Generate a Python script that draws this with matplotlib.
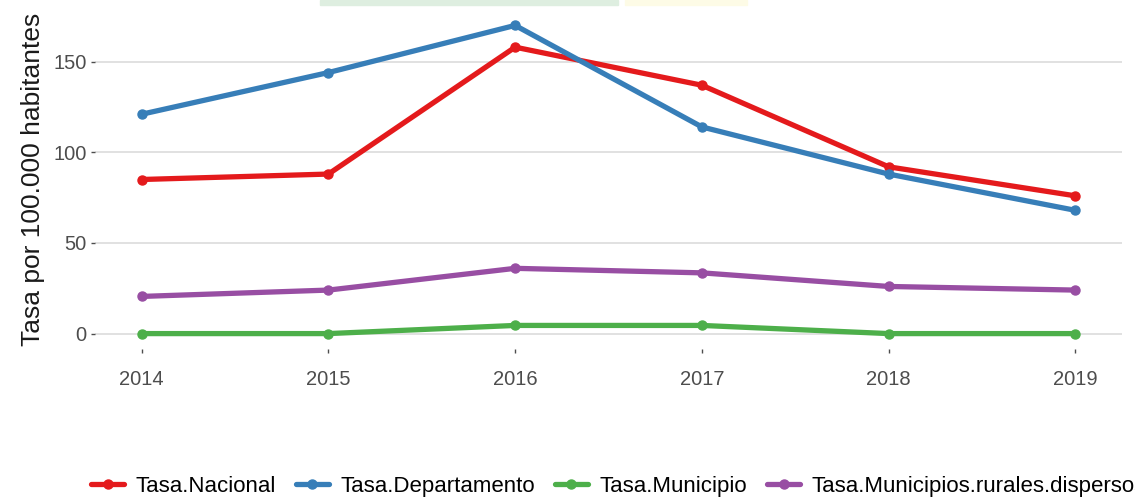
import matplotlib.pyplot as plt
from matplotlib.patches import Rectangle

years = [2014, 2015, 2016, 2017, 2018, 2019]
nacional = [85, 88, 158, 137, 92, 76]
departamento = [121, 144, 170, 114, 88, 68]
municipio = [0, 0, 4.5, 4.5, 0, 0]
rurales = [20.5, 24, 36, 33.5, 26, 24]

series = [
    ("Tasa.Nacional", nacional, "#E41A1C"),
    ("Tasa.Departamento", departamento, "#377EB8"),
    ("Tasa.Municipio", municipio, "#4DAF4A"),
    ("Tasa.Municipios.rurales.dispersos", rurales, "#984EA3"),
]

plt.rcParams['font.family'] = ['Liberation Sans', 'DejaVu Sans']

fig = plt.figure(figsize=(11.35, 4.98), dpi=100)
ax = fig.add_axes([95 / 1135, 1 - 349 / 498, (1122 - 95) / 1135, (349 - 10) / 498])

for nombre, vals, color in series:
    ax.plot(years, vals, color=color, lw=3.8, marker='o', ms=6.5,
            solid_capstyle='round', label=nombre, zorder=3)

ax.set_xlim(2013.75, 2019.25)
ax.set_ylim(-8.5, 178.5)
ax.set_yticks([0, 50, 100, 150])
ax.set_xticks(years)
ax.grid(axis='y', color='#dcdcdc', lw=1.2)
ax.grid(axis='x', visible=False)
for s in ax.spines.values():
    s.set_visible(False)
ax.tick_params(axis='both', colors='#4d4d4d', labelsize=14.5, length=3, width=1, pad=3)
ax.tick_params(axis='x', pad=12)
ax.set_ylabel("Tasa por 100.000 habitantes", fontsize=19, color='#1a1a1a', labelpad=6)

# franja de color en la parte superior
fig.patches.append(Rectangle((320 / 1135, 1 - 5 / 498), 298 / 1135, 5 / 498,
                             transform=fig.transFigure, color='#deeee0', zorder=0))
fig.patches.append(Rectangle((625 / 1135, 1 - 5 / 498), 122 / 1135, 5 / 498,
                             transform=fig.transFigure, color='#fdfbe6', zorder=0))

fig.legend(loc='center left', bbox_to_anchor=(82 / 1135, 1 - 486 / 498), ncol=4,
           frameon=False, fontsize=16, handlelength=1.5, columnspacing=0.9,
           handletextpad=0.5, borderaxespad=0)

fig.savefig("out.png", dpi=100)
